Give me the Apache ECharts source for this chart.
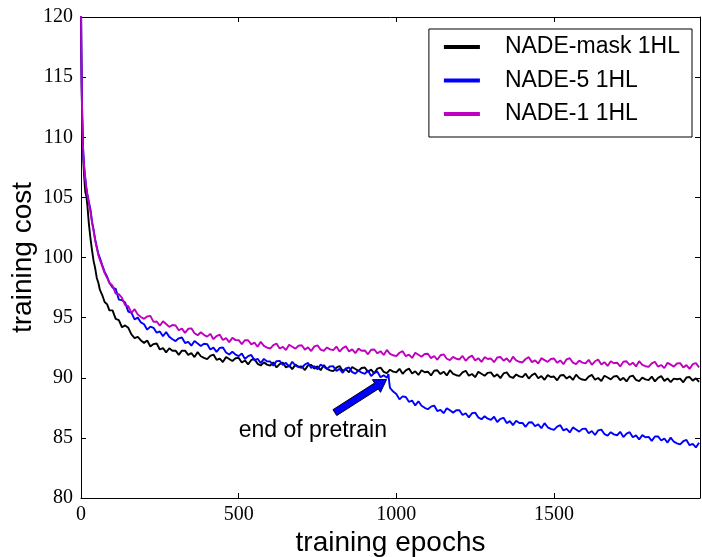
<!DOCTYPE html>
<html><head><meta charset="utf-8">
<script src="https://cdn.jsdelivr.net/npm/echarts@6/dist/echarts.min.js"></script>
<style>html,body{margin:0;padding:0;background:#fff}#c{width:702px;height:557px}</style>
</head><body><div id="c"></div>
<script>
// ---------- data ----------
const seriesNames = ['NADE-mask 1HL', 'NADE-5 1HL', 'NADE-1 1HL'];
const seriesColors = ['#000000', '#0000ff', '#bf00bf'];
const xTicks = [0, 500, 1000, 1500];
const yTicks = [80, 85, 90, 95, 100, 105, 110, 115, 120];

const earlyEpochs = [0,1,2,3,4,5,6,8,10,12,14,17,20,25,30,35,40,45,50,55,60,67,75,83,90];
const maskEarly  = [121,117,114.5,112.6,111.1,110.0,109.1,107.7,106.8,106.0,105.4,105.1,104.4,102.8,101.6,100.6,99.7,99.1,98.3,97.9,97.3,96.9,96.3,96.1,95.6];
const nade5Early = [121,117.5,115,113.1,111.6,110.4,109.5,108.3,107.6,107.0,106.5,105.8,105.3,104.6,104.0,103.0,102.3,101.5,100.9,100.3,99.95,99.4,98.8,98.4,97.9];
const nade1Early = [121,117.5,115,113.0,111.5,110.3,109.4,108.2,107.5,106.9,106.4,105.7,105.2,104.5,103.8,102.9,102.2,101.4,100.8,100.2,99.8,99.3,98.7,98.3,97.9];

// epochs 100, 110, ..., 1960
const mainFirstEpoch = 100, mainEpochStep = 10;
const maskMain = [
95.6,94.9,94.8,94.2,94.35,94.15,93.6,93.3,93.4,93.1,
92.9,93.1,92.6,92.8,92.85,92.35,92.47,92.11,92.45,92.25,
92.25,91.9,92.25,92.25,91.9,92.05,91.72,92.13,91.79,91.65,
91.55,91.82,91.93,91.49,91.6,91.3,91.73,91.56,91.39,91.62,
91.65,91.27,91.44,91.11,91.48,91.55,91.16,91.02,91.28,91.09,
91.0,91.28,90.86,91.14,91.27,90.85,91.03,90.71,91.09,90.92,
90.95,90.64,91.03,91.07,90.76,90.95,90.63,91.06,90.74,90.62,
90.55,90.84,90.98,90.57,90.71,90.45,90.89,90.73,90.57,90.81,
90.85,90.49,90.68,90.37,90.76,90.85,90.49,90.38,90.67,90.51,
90.45,90.74,90.33,90.62,90.76,90.35,90.54,90.23,90.62,90.46,
90.5,90.19,90.58,90.62,90.31,90.5,90.19,90.63,90.32,90.21,
90.15,90.44,90.58,90.17,90.31,90.05,90.49,90.33,90.17,90.41,
90.45,90.09,90.28,89.97,90.36,90.45,90.09,89.98,90.27,90.11,
90.05,90.34,89.93,90.22,90.36,89.95,90.14,89.83,90.22,90.06,
90.1,89.79,90.19,90.23,89.93,90.12,89.82,90.26,89.96,89.85,
89.8,90.1,90.24,89.84,89.98,89.73,90.17,90.02,89.86,90.11,
90.15,89.8,89.99,89.69,90.09,90.18,89.82,89.72,90.01,89.86,
89.8,90.1,89.7,89.99,90.14,89.74,89.94,89.64,89.93,89.88,
89.93,89.62,90.02,90.06,89.76,89.95,89.65];
const nade5Main = [
97.5,97.4,96.5,96.45,96.25,95.5,95.4,94.85,95.0,94.6,
94.45,94.0,94.25,94.15,93.75,93.85,93.45,93.8,93.4,93.2,
93.05,93.28,93.35,92.89,92.98,92.67,93.06,92.85,92.64,92.83,
92.8,92.35,92.5,92.15,92.48,92.51,92.1,91.93,92.16,91.93,
91.8,92.02,91.56,91.8,91.9,91.45,91.58,91.22,91.57,91.36,
91.35,91.01,91.38,91.4,91.07,91.24,90.91,91.33,91.01,90.89,
90.82,91.1,91.23,90.82,90.96,90.69,91.1,90.92,90.73,90.95,
90.96,90.57,90.74,90.41,90.78,90.85,90.47,90.34,90.6,90.42,
90.33,90.6,90.15,90.4,90.5,90.05,90.2,90.0,89.15,88.85,
88.65,88.2,88.45,88.4,88.0,88.1,87.7,88.05,87.67,87.5,
87.38,87.6,87.69,87.23,87.33,87.05,87.47,87.29,87.1,87.3,
87.3,86.9,87.05,86.7,87.05,87.1,86.7,86.55,86.8,86.6,
86.5,86.76,86.32,86.58,86.67,86.23,86.39,86.06,86.42,86.24,
86.25,85.92,86.28,86.3,85.97,86.13,85.8,86.22,85.88,85.75,
85.67,85.94,86.05,85.62,85.74,85.45,85.87,85.7,85.52,85.75,
85.77,85.39,85.57,85.24,85.62,85.69,85.32,85.19,85.47,85.29,
85.22,85.5,85.07,85.35,85.47,85.05,85.21,84.87,85.23,85.05,
85.08,84.75,85.11,85.12,84.78,84.95,84.61,85.02,84.68,84.55,
84.46,84.72,84.83,84.39,84.5,84.2,84.6];
const nade5KneeEpochs = [975, 978];   // end of pretraining
const nade5Knee = [90.3, 89.5];
const nade1Main = [
97.65,97.0,96.95,96.65,96.05,95.95,95.4,95.7,95.25,95.05,
94.9,95.1,95.15,94.65,94.68,94.33,94.7,94.47,94.23,94.39,
94.35,93.95,94.09,93.73,94.07,94.11,93.7,93.54,93.78,93.57,
93.42,93.65,93.21,93.47,93.58,93.14,93.3,92.96,93.32,93.13,
93.13,92.79,93.13,93.12,92.77,92.92,92.58,92.99,92.65,92.51,
92.43,92.71,92.85,92.43,92.57,92.31,92.74,92.58,92.42,92.66,
92.7,92.34,92.53,92.22,92.61,92.7,92.34,92.23,92.52,92.36,
92.3,92.59,92.18,92.47,92.61,92.19,92.36,92.04,92.42,92.24,
92.27,91.95,92.33,92.35,92.03,92.21,91.89,92.31,91.99,91.87,
91.8,92.08,92.21,91.79,91.92,91.65,92.08,91.91,91.74,91.97,
92.0,91.63,91.81,91.49,91.87,91.95,91.58,91.46,91.74,91.58,
91.52,91.81,91.41,91.7,91.84,91.43,91.63,91.32,91.71,91.56,
91.6,91.29,91.68,91.73,91.42,91.61,91.3,91.75,91.44,91.33,
91.27,91.56,91.71,91.3,91.44,91.19,91.63,91.47,91.32,91.56,
91.6,91.24,91.44,91.13,91.53,91.62,91.26,91.14,91.43,91.26,
91.2,91.49,91.08,91.37,91.51,91.1,91.29,90.98,91.37,91.21,
91.25,90.94,91.33,91.37,91.06,91.25,90.94,91.38,91.07,90.96,
90.9,91.19,91.33,90.92,91.06,90.8,91.24,91.09,90.93,91.18,
91.22,90.86,91.05,90.74,91.13,91.22,90.86];

const annotationText = 'end of pretrain';
const annotationTextAt = [500, 85];      // left / baseline of the text
const arrowTail = [805, 87.1];
const arrowTip = [969, 89.85];
const xMin = 0, xMax = 1963, yMin = 80, yMax = 120;

// ---------- build ----------
function buildPairs(early, main, extraX, extraY) {
  const pts = [];
  earlyEpochs.forEach((e, i) => pts.push([e, early[i]]));
  main.forEach((v, i) => pts.push([mainFirstEpoch + i * mainEpochStep, v]));
  (extraX || []).forEach((e, i) => pts.push([e, extraY[i]]));
  pts.sort((a, b) => a[0] - b[0]);
  return pts;
}
const seriesData = [
  buildPairs(maskEarly, maskMain),
  buildPairs(nade5Early, nade5Main, nade5KneeEpochs, nade5Knee),
  buildPairs(nade1Early, nade1Main)
];

const chart = echarts.init(document.getElementById('c'), null, {renderer: 'canvas'});
const serif = 'Liberation Serif', sans = 'Liberation Sans';
const tickFmtX = v => xTicks.includes(v) ? String(v) : '';
const tickFmtY = v => yTicks.includes(v) ? String(v) : '';
const axisCommon = {
  axisLine: {show: true, onZero: false, lineStyle: {color: '#000', width: 1}},
  axisTick: {show: true, inside: true, length: 5, lineStyle: {color: '#000', width: 1}},
  splitLine: {show: false}
};

chart.setOption({
  animation: false,
  backgroundColor: '#fff',
  grid: {left: 81, right: 2, top: 17, bottom: 59, containLabel: false, outerBoundsMode: 'none'},
  xAxis: [
    Object.assign({type: 'value', min: xMin, max: xMax, interval: 500, position: 'bottom',
      name: 'training epochs', nameLocation: 'middle', nameGap: 31, nameMoveOverlap: false,
      nameTextStyle: {fontFamily: sans, fontSize: 28, color: '#000'},
      axisLabel: {show: true, margin: 7, fontFamily: serif, fontSize: 20, color: '#000',
        formatter: tickFmtX, showMaxLabel: false}}, axisCommon),
    Object.assign({type: 'value', min: xMin, max: xMax, interval: 500, position: 'top',
      axisLabel: {show: false}}, axisCommon)
  ],
  yAxis: [
    Object.assign({type: 'value', min: yMin, max: yMax, interval: 5, position: 'left',
      name: 'training cost', nameLocation: 'middle', nameGap: 44, nameRotate: 90, nameMoveOverlap: false,
      nameTextStyle: {fontFamily: sans, fontSize: 28, color: '#000'},
      axisLabel: {show: true, margin: 8, fontFamily: serif, fontSize: 20, color: '#000',
        formatter: tickFmtY}}, axisCommon),
    Object.assign({type: 'value', min: yMin, max: yMax, interval: 5, position: 'right',
      axisLabel: {show: false}}, axisCommon)
  ],
  legend: {
    orient: 'vertical', right: 10, top: 29,
    data: seriesNames, icon: 'rect', itemWidth: 36, itemHeight: 4, itemGap: 10.5,
    padding: [6.5, 12, 11.5, 15],
    borderColor: '#000', borderWidth: 1, borderRadius: 0, backgroundColor: '#fff',
    textStyle: {fontFamily: sans, fontSize: 23, color: '#000', padding: [0, 0, 0, 20], lineHeight: 23},
    selectedMode: false
  },
  series: seriesNames.map((n, i) => ({
    type: 'line', name: n, data: seriesData[i], xAxisIndex: 0, yAxisIndex: 0,
    showSymbol: false, symbol: 'none', clip: true, z: 2 + i,
    lineStyle: {color: seriesColors[i], width: 1.9},
    itemStyle: {color: seriesColors[i]}
  }))
});

// annotation: arrow + text placed through the chart's own scales
const toPx = p => chart.convertToPixel({gridIndex: 0}, p);
const T = toPx(arrowTail), P = toPx(arrowTip), L = toPx(annotationTextAt);
const dx = P[0] - T[0], dy = P[1] - T[1], len = Math.hypot(dx, dy);
const ux = dx / len, uy = dy / len, nx = -uy, ny = ux;
const w = 3.5, hw = 7.5, hl = 12;
const H = [P[0] - ux * hl, P[1] - uy * hl];
const poly = [
  [T[0] + nx * w, T[1] + ny * w], [H[0] + nx * w, H[1] + ny * w], [H[0] + nx * hw, H[1] + ny * hw],
  [P[0], P[1]],
  [H[0] - nx * hw, H[1] - ny * hw], [H[0] - nx * w, H[1] - ny * w], [T[0] - nx * w, T[1] - ny * w]
];
chart.setOption({
  graphic: [
    {type: 'polygon', z: 100, shape: {points: poly},
     style: {fill: '#0000ff', stroke: '#000', lineWidth: 1}},
    {type: 'text', z: 100, x: L[0], y: L[1] - 7,
     style: {text: annotationText, fontFamily: sans, fontSize: 23, fill: '#000',
       align: 'left', verticalAlign: 'middle'}}
  ]
});
</script>
</body></html>
